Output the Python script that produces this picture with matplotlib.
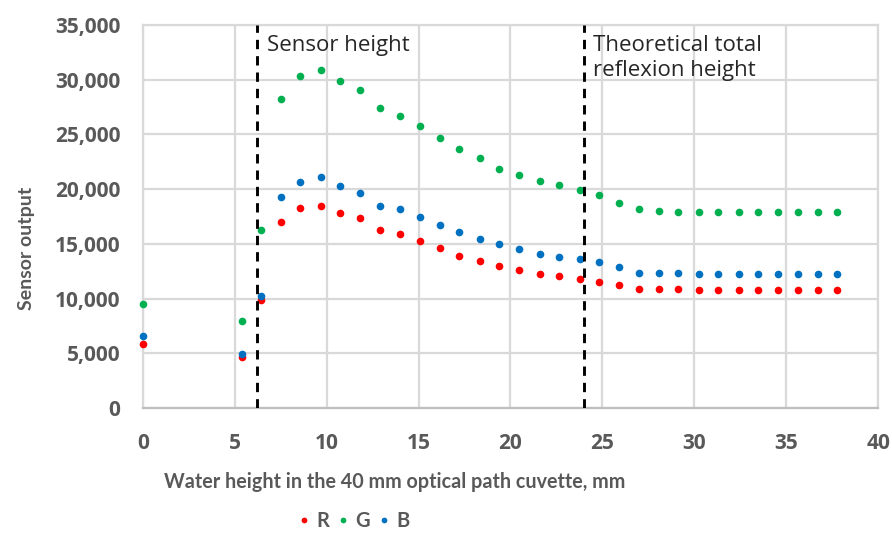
import matplotlib
matplotlib.use("Agg")
import matplotlib.pyplot as plt
from matplotlib.ticker import FuncFormatter, MultipleLocator

# ==========================================
# DATA
# ==========================================

height_mm = [0.0, 5.38, 6.43, 7.52, 8.57, 9.68, 10.73, 11.83, 12.89, 14.01,
             15.06, 16.18, 17.22, 18.34, 19.38, 20.48, 21.62, 22.65, 23.78,
             24.81, 25.92, 26.97, 28.09, 29.12, 30.25, 31.30, 32.43, 33.46,
             34.56, 35.62, 36.72, 37.77]

red = [5850, 4630, 9870, 17030, 18280, 18490, 17790, 17340, 16270, 15930,
       15260, 14650, 13920, 13440, 13010, 12610, 12280, 12070, 11820,
       11550, 11220, 10910, 10910, 10910, 10800, 10800, 10800, 10800,
       10800, 10800, 10800, 10800]

green = [9506, 7980, 16270, 28245, 30350, 30930, 29890, 29070, 27420, 26720,
         25800, 24710, 23640, 22820, 21870, 21300, 20720, 20380, 19930,
         19440, 18740, 18160, 18040, 17960, 17960, 17960, 17960, 17960,
         17960, 17960, 17960, 17960]

blue = [6581, 4936, 10240, 19310, 20630, 21080, 20260, 19680, 18490, 18160,
        17460, 16730, 16060, 15480, 14960, 14500, 14050, 13830, 13590,
        13320, 12890, 12370, 12310, 12310, 12220, 12220, 12220, 12220,
        12220, 12220, 12220, 12220]

sensor_height = 6.2
reflexion_height = 24.0

# ==========================================
# PLOT
# ==========================================

plt.rcParams["font.family"] = ["Lato", "DejaVu Sans"]
GREY = "#595959"

fig = plt.figure(figsize=(8.92, 5.34), dpi=100)
ax = fig.add_axes([0.160, 0.236, 0.8246, 0.717])

series = [("R", red, "#ff0000"), ("G", green, "#00b050"), ("B", blue, "#0070c0")]
for name, values, color in series:
    ax.plot(height_mm, values, "o", color=color, markersize=5.5,
            markeredgewidth=0, label=name, clip_on=False, zorder=3)

for xv in (sensor_height, reflexion_height):
    ax.axvline(xv, color="black", linestyle=(0, (3.2, 2.4)), linewidth=2.1, zorder=4)

ax.text(sensor_height + 0.55, 33150, "Sensor height", fontsize=16,
        family=["Open Sans", "DejaVu Sans"], color="#262626", va="center", ha="left")
ax.text(reflexion_height + 0.5, 31950, "Theoretical total\nreflexion height",
        fontsize=16, family=["Open Sans", "DejaVu Sans"], color="#262626",
        va="center", ha="left", linespacing=1.25)

ax.set_xlim(0, 40)
ax.set_ylim(0, 35000)
ax.xaxis.set_major_locator(MultipleLocator(5))
ax.yaxis.set_major_locator(MultipleLocator(5000))
ax.yaxis.set_major_formatter(FuncFormatter(lambda v, p: f"{int(v):,}"))

ax.grid(True, color="#d9d9d9", linewidth=1.6)
ax.set_axisbelow(True)
for spine in ax.spines.values():
    spine.set_color("#d9d9d9")
    spine.set_linewidth(1.6)
ax.spines["bottom"].set_color("#bfbfbf")

ax.tick_params(length=0, labelsize=15, labelcolor=GREY)
ax.tick_params(axis="y", pad=16)
ax.tick_params(axis="x", pad=18)
for lbl in ax.get_xticklabels() + ax.get_yticklabels():
    lbl.set_fontweight("bold")
    lbl.set_family(["Open Sans", "DejaVu Sans"])

fig.text(0.442, 0.097, "Water height in the 40 mm optical path cuvette, mm",
         fontsize=14.2, fontweight="bold", color=GREY, ha="center", va="center")
fig.text(0.030, 0.534, "Sensor output", fontsize=14, fontweight="bold",
         color=GREY, rotation=90, ha="center", va="center")

leg = fig.legend(loc="center", bbox_to_anchor=(0.397, 0.025), ncol=3, frameon=False,
                 prop={"size": 14.5, "weight": "bold"}, handlelength=0.5,
                 handletextpad=0.35, columnspacing=0.45, markerscale=0.75,
                 labelcolor=GREY)

plt.savefig("out.png", dpi=100)
plt.close()
